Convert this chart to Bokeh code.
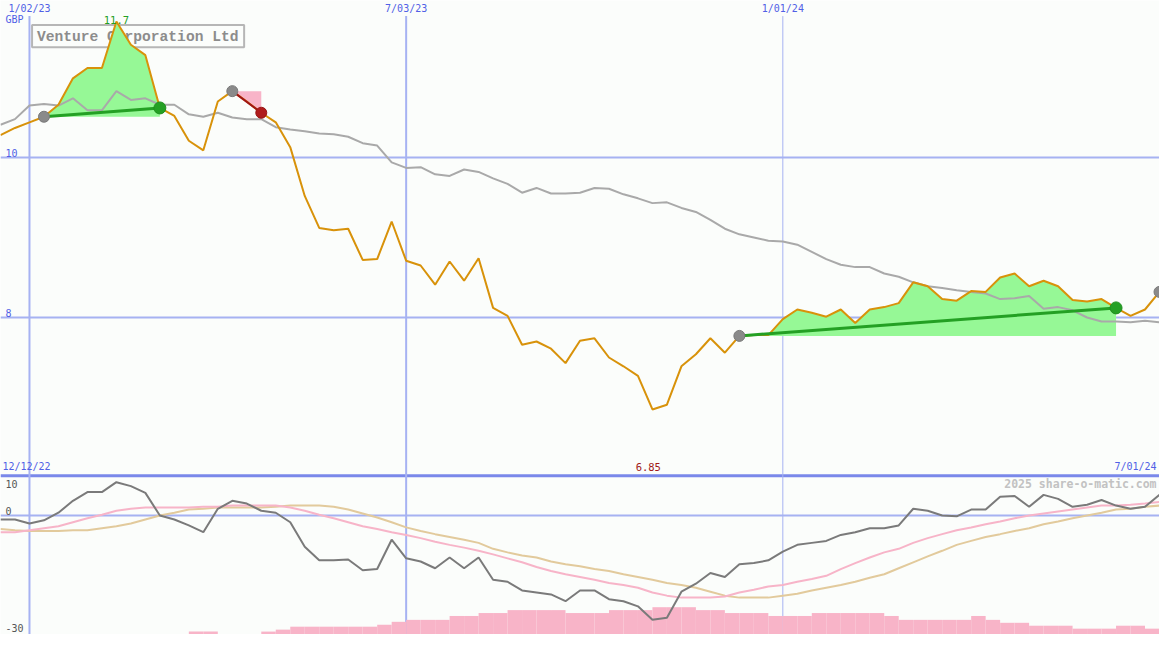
import numpy as np
import pandas as pd
from bokeh.plotting import figure
from bokeh.models import Range1d, Span
from bokeh.core.properties import value
from bokeh.embed import file_html
from bokeh.resources import INLINE

# ---------------- data ----------------
dates = pd.date_range("2022-12-19", "2024-07-01", freq="7D")   # weekly closes

price = [10.28, 10.37, 10.44, 10.51, 10.66, 10.99, 11.12, 11.12, 11.70, 11.41,
         11.28, 10.62, 10.52, 10.21, 10.09, 10.70, 10.83, 10.70, 10.56, 10.44,
         10.13, 9.52, 9.12, 9.09, 9.11, 8.72, 8.73, 9.20, 8.71, 8.65,
         8.41, 8.70, 8.46, 8.74, 8.12, 8.02, 7.66, 7.70, 7.61, 7.43,
         7.71, 7.74, 7.50, 7.39, 7.27, 6.85, 6.91, 7.39, 7.54, 7.74,
         7.56, 7.77, 7.78, 7.78, 7.98, 8.10, 8.06, 8.01, 8.10, 7.93,
         8.10, 8.13, 8.18, 8.44, 8.39, 8.23, 8.21, 8.33, 8.32, 8.50,
         8.55, 8.39, 8.46, 8.39, 8.22, 8.20, 8.23, 8.12, 8.02, 8.10,
         8.32]

moving_avg = [10.41, 10.48, 10.65, 10.67, 10.65, 10.74, 10.59, 10.59, 10.83, 10.72,
              10.74, 10.66, 10.66, 10.54, 10.51, 10.56, 10.50, 10.48, 10.48, 10.38,
              10.35, 10.33, 10.30, 10.29, 10.26, 10.18, 10.15, 9.94, 9.87, 9.88,
              9.79, 9.77, 9.85, 9.82, 9.74, 9.67, 9.56, 9.62, 9.55, 9.55,
              9.56, 9.62, 9.61, 9.54, 9.49, 9.43, 9.44, 9.37, 9.32, 9.22,
              9.11, 9.04, 9.00, 8.96, 8.95, 8.91, 8.82, 8.73, 8.66, 8.63,
              8.63, 8.55, 8.51, 8.44, 8.39, 8.37, 8.34, 8.32, 8.30, 8.23,
              8.24, 8.27, 8.11, 8.13, 8.09, 8.00, 7.95, 7.95, 7.94, 7.96,
              7.94]

momentum = [-1.0, -1.0, -2.0, -1.2, 0.7, 3.7, 5.9, 5.9, 8.4, 7.4,
            5.7, 0.0, -1.0, -2.5, -4.2, 1.7, 3.7, 3.0, 1.2, 0.7,
            -1.7, -7.9, -11.3, -11.3, -11.1, -13.8, -13.5, -6.1, -10.8, -11.6,
            -13.3, -10.6, -13.3, -10.6, -16.2, -16.7, -18.9, -19.4, -19.9, -21.6,
            -18.9, -18.9, -21.1, -21.6, -22.9, -26.3, -25.8, -19.2, -17.2, -14.5,
            -15.5, -12.3, -12.0, -11.3, -9.1, -7.4, -6.9, -6.4, -4.9, -4.2,
            -3.2, -3.2, -2.5, 1.7, 1.2, 0.0, -0.2, 1.5, 1.5, 4.7,
            4.9, 2.2, 5.2, 4.2, 2.2, 2.7, 3.9, 2.5, 1.7, 2.2,
            5.2]

signal_line = [-4.2, -4.2, -3.7, -3.2, -2.7, -1.7, -0.7, 0.2, 1.2, 1.7,
               2.0, 2.0, 2.0, 2.0, 2.2, 2.2, 2.5, 2.5, 2.5, 2.5,
               2.0, 1.2, 0.2, -0.7, -1.7, -2.7, -3.4, -4.2, -4.9, -5.7,
               -6.6, -7.4, -8.1, -8.9, -9.8, -10.8, -11.8, -13.0, -14.0, -14.8,
               -15.5, -16.2, -17.0, -17.5, -18.2, -19.4, -20.2, -20.7, -20.7, -20.7,
               -20.4, -19.4, -18.7, -17.9, -17.5, -16.7, -16.0, -15.2, -13.5, -12.0,
               -10.6, -9.3, -8.4, -6.9, -5.7, -4.7, -3.7, -3.0, -2.2, -1.5,
               -0.7, 0.0, 0.5, 1.0, 1.5, 2.0, 2.5, 2.5, 2.7, 3.0,
               3.4]

trend_line = [-3.4, -3.7, -3.9, -3.9, -3.9, -3.7, -3.7, -3.2, -2.7, -2.0,
              -1.0, 0.0, 0.7, 1.5, 1.7, 2.0, 2.0, 2.0, 2.0, 2.2,
              2.5, 2.5, 2.5, 2.2, 1.5, 0.5, -0.5, -1.7, -3.0, -3.9,
              -4.7, -5.4, -6.1, -6.9, -8.4, -9.3, -10.1, -10.6, -11.6, -12.3,
              -12.8, -13.5, -14.0, -14.8, -15.5, -16.2, -17.0, -17.5, -18.2, -19.2,
              -20.2, -20.7, -20.7, -20.7, -20.2, -19.7, -18.9, -18.2, -17.5, -16.7,
              -15.7, -14.8, -13.3, -11.8, -10.3, -8.9, -7.4, -6.4, -5.4, -4.7,
              -3.9, -3.2, -2.2, -1.5, -0.7, 0.0, 0.7, 1.5, 1.7, 2.2,
              2.5]

volume = [0, 0, 0, 0, 0, 0, 0, 0, 0, 0,
          0, 0, 0, 3, 3, 0, 0, 0, 3, 5,
          8, 8, 8, 8, 8, 8, 10, 13, 15, 15,
          15, 19, 19, 22, 22, 25, 25, 25, 25, 22,
          22, 22, 25, 25, 25, 28, 28, 28, 25, 25,
          22, 22, 22, 19, 19, 19, 22, 22, 22, 22,
          22, 19, 15, 15, 15, 15, 15, 19, 15, 12,
          12, 9, 9, 9, 6, 6, 6, 9, 9, 6,
          6]

up_moves = [(3, 11), (51, 77)]      # (start week, end week)
down_moves = [(16, 18)]
new_start = 80

grid_dates = ["2023-01-02", "2023-07-03", "2024-01-01"]
grid_labels = ["1/02/23", "7/03/23", "1/01/24"]
grid_widths = [2, 2, 1]
price_ticks = [10, 8]
osc_ticks = [10, 0, -30]

assert len(dates) == 81
for arr in (price, moving_avg, momentum, signal_line, trend_line, volume):
    assert len(arr) == 81, len(arr)

# ---------------- layout helpers ----------------
DAY = 86400000
ms = (dates.values.astype("datetime64[ms]").astype(np.int64)).astype(float)
T0 = ms[0]
PXD = 1175 / 560.0          # ref pixels per day


def X(px):
    return T0 + px / PXD * DAY


def P(py):                  # ref pixel row -> price units
    return 10 - (py - 161) / 82.0


def to_ms(s):
    return float(np.datetime64(s, "ms").astype(np.int64))


W, H = 1159, 634
BG = "#fbfdfb"
BLUE_TXT = "#5060e6"
GRID = "#a6b2f2"
MONO = value("DejaVu Sans Mono")

p = figure(width=W, height=H, output_backend="svg", toolbar_location=None,
           x_range=Range1d(X(0), X(1175)), y_range=Range1d(P(650), P(0)),
           x_axis_location=None, y_axis_location=None, min_border=0,
           background_fill_color=BG, border_fill_color=BG, outline_line_color=None)
p.grid.visible = False
p.extra_y_ranges = {"osc": Range1d(-(650 - 528) / 4.067, 528 / 4.067),
                    "vol": Range1d(0, 650)}

# grid lines
for t in price_ticks:
    p.add_layout(Span(location=t, dimension="width", line_color=GRID, line_width=2, level="underlay"))
p.add_layout(Span(location=0, dimension="width", line_color=GRID, line_width=2,
                  y_range_name="osc", level="underlay"))
p.add_layout(Span(location=10, dimension="width", line_color="#7a88ea", line_width=3,
                  y_range_name="osc", level="underlay"))
gx = [to_ms(d) for d in grid_dates]
p.segment(x0=gx, x1=gx, y0=[P(650)] * 3, y1=[P(16)] * 3, line_color=GRID, line_width=grid_widths)

# title box (under the data)
p.quad(left=[X(32)], right=[X(247)], bottom=[P(48)], top=[P(25)],
       fill_color=BG, line_color="#b6b6b6", line_width=2)
p.text(x=[X(37)], y=[P(37)], text=["Venture Corporation Ltd"], text_font=value("Liberation Mono"),
       text_font_style="bold", text_font_size="14.6px", text_color="#8c8c8c",
       text_align="left", text_baseline="middle")

# volume bars
p.quad(left=ms, right=ms + 7 * DAY, bottom=0, top=volume, y_range_name="vol",
       fill_color="#f8b4c8", line_color=None)

# oscillator lines
p.line(ms, trend_line, y_range_name="osc", line_color="#e2ca9c", line_width=2)
p.line(ms, signal_line, y_range_name="osc", line_color="#f7b4c8", line_width=2)
p.line(ms, momentum, y_range_name="osc", line_color="#7a7a7a", line_width=2)

# up / down move shading
for a, b in up_moves:
    base = [price[a]] * (b - a + 1)
    p.varea(x=ms[a:b + 1], y1=base, y2=price[a:b + 1], fill_color="#96f896")
for a, b in down_moves:
    base = [price[a]] * (b - a + 1)
    p.varea(x=ms[a:b + 1], y1=price[a:b + 1], y2=base, fill_color="#f8b4c8")

# price & average
p.line(ms, moving_avg, line_color="#a9a9a9", line_width=2)
p.line(ms, price, line_color="#d8920a", line_width=2)

# trend segments and markers
for a, b in up_moves:
    p.line([ms[a], ms[b]], [price[a], price[b]], line_color="#24a024", line_width=3)
for a, b in down_moves:
    p.line([ms[a], ms[b]], [price[a], price[b]], line_color="#a01414", line_width=2)
starts = [a for a, b in up_moves] + [a for a, b in down_moves] + [new_start]
p.scatter(ms[starts], [price[i] for i in starts], size=11, fill_color="#8a8a8a", line_color="#7a7a7a")
ends_up = [b for a, b in up_moves]
p.scatter(ms[ends_up], [price[i] for i in ends_up], size=12, fill_color="#24a024", line_color="#1f8f1f")
ends_dn = [b for a, b in down_moves]
p.scatter(ms[ends_dn], [price[i] for i in ends_dn], size=11, fill_color="#b01c1c", line_color="#981414")

# high / low labels
imax = int(np.argmax(price))
imin = int(np.argmin(price))
p.text(x=[ms[imax]], y=[price[imax]], text=[f"{price[imax]:.1f}"], text_color="#24a024",
       text_font=MONO, text_font_size="10.5px", text_align="center", text_baseline="bottom", y_offset=2)
p.text(x=[ms[imin] - 2 * DAY], y=[P(478)], text=[f"{price[imin]:.2f}"], text_color="#a01818",
       text_font=MONO, text_font_size="10.5px", text_align="center", text_baseline="middle")

# axis-like labels
p.text(x=gx, y=[P(8)] * 3, text=grid_labels, text_color=BLUE_TXT, text_font=MONO,
       text_font_size="10px", text_align="center", text_baseline="middle")
p.text(x=[X(5)], y=[P(19)], text=["GBP"], text_color=BLUE_TXT, text_font=MONO,
       text_font_size="10px", text_align="left", text_baseline="middle")
p.text(x=[X(5)] * len(price_ticks), y=price_ticks, text=[str(t) for t in price_ticks],
       text_color=BLUE_TXT, text_font=MONO, text_font_size="10px", text_align="left",
       text_baseline="bottom", y_offset=-1)
p.text(x=[X(2)], y=[P(478)], text=["12/12/22"], text_color=BLUE_TXT, text_font=MONO,
       text_font_size="10px", text_align="left", text_baseline="middle")
p.text(x=[X(1172)], y=[P(478)], text=["7/01/24"], text_color=BLUE_TXT, text_font=MONO,
       text_font_size="10px", text_align="right", text_baseline="middle")
p.text(x=[X(5)], y=[osc_ticks[0]], text=[str(osc_ticks[0])], y_range_name="osc",
       text_color="#555555", text_font=MONO, text_font_size="10px", text_align="left",
       text_baseline="top", y_offset=4)
p.text(x=[X(5)] * 2, y=osc_ticks[1:], text=[str(t) for t in osc_ticks[1:]], y_range_name="osc",
       text_color="#555555", text_font=MONO, text_font_size="10px", text_align="left",
       text_baseline="bottom", y_offset=[-1, -3])
p.text(x=[X(1172)], y=[P(496)], text=["2025 share-o-matic.com"], text_color="#c2c2c2",
       text_font=MONO, text_font_style="bold", text_font_size="11.5px", text_align="right",
       text_baseline="middle")

open("out.html", "w").write(file_html(p, INLINE))
